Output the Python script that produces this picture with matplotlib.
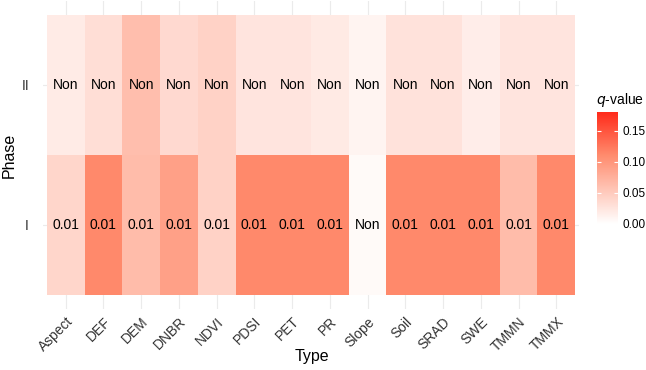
import numpy as np
import matplotlib
matplotlib.use("Agg")
import matplotlib.pyplot as plt
from matplotlib.colors import LinearSegmentedColormap, Normalize
import matplotlib.cm as cm

plt.rcParams['font.family'] = ['Liberation Sans', 'DejaVu Sans']

types = ["Aspect", "DEF", "DEM", "DNBR", "NDVI", "PDSI", "PET", "PR",
         "Slope", "Soil", "SRAD", "SWE", "TMMN", "TMMX"]
phases = ["I", "II"]

# q-values read from tile shading
q_phase1 = [0.040, 0.112, 0.064, 0.091, 0.043, 0.112, 0.112, 0.112,
            0.005, 0.112, 0.112, 0.112, 0.064, 0.112]
q_phase2 = [0.019, 0.031, 0.062, 0.036, 0.043, 0.026, 0.026, 0.021,
            0.011, 0.028, 0.028, 0.017, 0.026, 0.026]

lab_phase1 = ["0.01"] * 8 + ["Non"] + ["0.01"] * 5
lab_phase2 = ["Non"] * 14

q_max = 0.18
cbar_ticks = [0.00, 0.05, 0.10, 0.15]

cmap = LinearSegmentedColormap.from_list(
    "wr", [(0, "#FFFFFF"), (0.62, "#FF8A6C"), (1, "#FF2A1A")])
norm = Normalize(0, q_max)

W, H = 646, 370
fig = plt.figure(figsize=(W / 100, H / 100), dpi=100)
ax = fig.add_axes([43 / W, 1 - 309 / H, (579 - 43) / W, (309 - 1) / H])

Z = np.array([q_phase1, q_phase2])
xe = np.arange(len(types) + 1) - 0.5
ye = np.arange(len(phases) + 1) - 0.5
ax.pcolormesh(xe, ye, Z, cmap=cmap, norm=norm, zorder=2)

for j, labs in enumerate([lab_phase1, lab_phase2]):
    for i, t in enumerate(labs):
        ax.text(i, j, t, ha='center', va='center', fontsize=10, color='black', zorder=3)

ax.set_xlim(-0.6, len(types) - 0.4)
ax.set_ylim(-0.6, len(phases) - 0.4)
ax.set_xticks(range(len(types)))
ax.set_yticks(range(len(phases)))
ax.set_xticklabels(types, rotation=45, ha='right', va='top', rotation_mode='anchor')
ax.set_yticklabels(phases)
ax.tick_params(length=0, labelsize=10, labelcolor='#333333')
ax.tick_params(axis='x', pad=4)
ax.tick_params(axis='y', pad=10)
ax.grid(True, color='#EBEBEB', lw=0.8, zorder=0)
ax.set_axisbelow(True)
for s in ax.spines.values():
    s.set_visible(False)
fig.text(312 / W, 1 - 357 / H, "Type", fontsize=11.5, ha='center', va='center')
fig.text(9 / W, 1 - 155 / H, "Phase", fontsize=11.5, ha='center', va='center', rotation=90)

# colour bar
cax = fig.add_axes([597 / W, 1 - 224 / H, 21 / W, (224 - 112) / H])
sm = cm.ScalarMappable(norm=norm, cmap=cmap)
cb = fig.colorbar(sm, cax=cax)
cb.outline.set_visible(False)
cb.set_ticks(cbar_ticks)
cb.set_ticklabels(["%.2f" % v for v in cbar_ticks])
cax.tick_params(length=0, labelsize=8.5, pad=3)
cax.hlines(cbar_ticks[1:], 0, 0.2, color='white', lw=0.8, transform=cax.get_yaxis_transform())
cax.hlines(cbar_ticks[1:], 0.8, 1, color='white', lw=0.8, transform=cax.get_yaxis_transform())
fig.text(596 / W, 1 - 100 / H, "$q$-value", fontsize=10, va='center', ha='left')

fig.savefig("out.png", dpi=100)
